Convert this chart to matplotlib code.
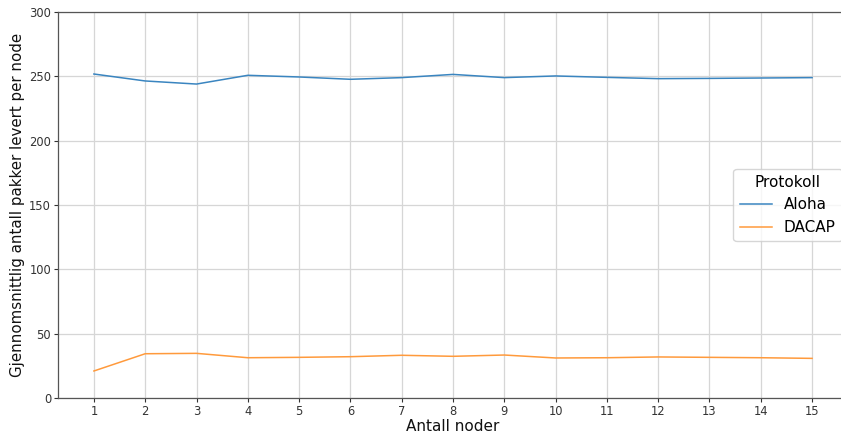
import matplotlib
matplotlib.use("Agg")
import matplotlib.pyplot as plt

nodes = list(range(1, 16))
aloha = [251.8, 246.4, 244.0, 250.8, 249.5, 247.7, 249.0, 251.5, 249.0, 250.3, 249.2, 248.2, 248.4, 248.7, 249.0]
dacap = [21.0, 34.4, 34.7, 31.3, 31.6, 32.1, 33.2, 32.4, 33.4, 31.1, 31.3, 31.9, 31.6, 31.3, 30.8]
series_names = ["Aloha", "DACAP"]

fig = plt.figure(figsize=(8.41, 4.34), dpi=100)
ax = fig.add_axes([58/841, 36/434, 790/841, 386/434])

ax.plot(nodes, aloha, color="#3a85c0", lw=1.1, label=series_names[0])
ax.plot(nodes, dacap, color="#ff9a3c", lw=1.1, label=series_names[1])

ax.set_ylim(0, 300)
ax.set_xticks(nodes)
ax.set_yticks(range(0, 301, 50))
ax.grid(True, color="#d6d6d6", lw=0.9)
ax.set_axisbelow(True)
for s in ax.spines.values():
    s.set_color("#555555")
    s.set_linewidth(0.9)
ax.tick_params(labelsize=8.3, colors="#333333", length=3, pad=2, width=0.8)
ax.set_xlabel("Antall noder", fontsize=11, labelpad=1, color="#111111")
ax.set_ylabel("Gjennomsnittlig antall pakker levert per node", fontsize=10.8, labelpad=3, color="#111111")

leg = ax.legend(title="Protokoll", loc="center right", fontsize=11, title_fontsize=11,
                handlelength=2.1, borderaxespad=0.4)

fig.savefig("out.png", dpi=100)
